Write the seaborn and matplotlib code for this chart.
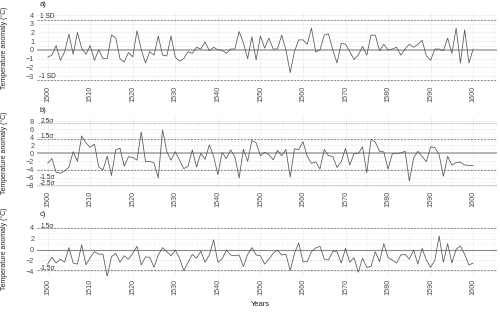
import matplotlib
matplotlib.use("Agg")
import matplotlib.pyplot as plt
import seaborn as sns
import pandas as pd

years = list(range(1500, 1601))

anom_a = [
    -0.85, -0.6, 0.5, -1.2, -0.2, 1.8, -0.5, 2.0, 0.2, -0.5,
    0.5, -1.2, 0.0, -1.0, -1.0, 1.7, 1.4, -1.0, -1.4, -0.3,
    -0.8, 2.2, 0.0, -1.5, -0.2, -0.6, 1.6, -0.6, -0.7, 1.6,
    -0.85, -1.3, -1.0, -0.2, -0.4, 0.3, 0.1, 0.9, -0.1, 0.3,
    0.0, -0.05, -0.4, 0.1, 0.1, 2.1, 0.8, -1.0, 1.5, -1.15,
    1.6, 0.2, 1.35, 0.1, 0.1, 1.7, 0.0, -2.6, -0.2, 1.15,
    1.15, 0.65, 2.5, -0.25, 0.0, 1.7, 1.85, 0.0, -1.5, 0.75,
    0.65, -0.2, -1.1, -0.6, 0.4, -0.6, 1.7, 1.7, -0.1, 0.65,
    0.0, 0.1, 0.3, -0.6, 0.1, 0.65, 0.3, 0.65, 1.1, -0.7,
    -1.2, 0.1, 0.1, -0.1, 1.35, -0.4, 2.5, -1.5, 2.3, -1.5,
    0.1,
]

anom_b = [
    -2.5, -1.3, -4.7, -4.9, -4.4, -3.4, 0.4, -2.0, 4.3, 2.6,
    1.5, 2.3, -3.4, -4.1, -0.7, -5.5, 0.85, 1.3, -3.2, -0.85,
    -1.0, -1.7, 5.3, -2.1, -2.0, -2.4, -6.1, 5.8, 0.4, -1.7,
    0.4, -1.7, -3.8, -3.2, 0.85, -3.4, 0.0, -1.5, 2.1, -0.7,
    -5.3, 0.2, -1.3, 0.85, -0.85, -6.1, 1.0, -2.0, 3.2, 2.6,
    -0.6, 0.25, -0.35, -1.6, 0.75, -0.6, 0.95, -5.9, 1.1, 0.95,
    2.9, -0.75, -2.5, -2.1, -3.9, 0.95, -0.6, -0.75, -3.5, -2.1,
    1.2, -2.9, -0.1, -0.1, 1.6, -4.8, 3.5, 2.8, 0.5, 0.35,
    -3.9, -0.1, -0.1, 0.1, 0.5, -6.9, -1.2, 0.5, -0.75, -2.1,
    1.6, 1.4, -0.35, -5.7, -0.75, -2.9, -2.3, -2.2, -2.9, -3.0,
    -3.0,
]

anom_c = [
    -2.7, -1.45, -2.5, -1.8, -2.35, 0.35, -2.5, -2.7, 0.9, -2.85,
    -1.5, -0.4, -0.85, -0.85, -5.0, -1.35, -0.7, -2.35, -1.15, -1.8,
    -0.7, 0.6, -2.85, -1.35, -1.45, -3.3, -1.0, 0.35, -0.4, -1.15,
    -0.1, -1.6, -3.9, -2.35, -0.9, -1.6, -0.3, -2.35, -1.0, 1.8,
    -2.35, -1.75, -0.1, -1.0, -1.15, -1.0, -3.15, -0.9, 0.35, -1.0,
    -1.15, -2.7, -1.8, -0.7, -0.1, -1.0, -0.9, -3.9, -0.7, 1.25,
    -2.25, -2.25, -0.4, 0.3, 0.6, -1.75, -1.95, -0.4, -0.4, -2.5,
    0.2, -2.35, -1.5, -4.2, -1.6, -3.3, -3.15, -0.4, -2.25, 1.1,
    -1.5, -1.95, -2.5, -1.0, -0.9, -1.75, -0.1, -2.7, 0.2, -1.95,
    -3.3, -1.95, 2.5, -2.35, 1.1, -2.5, 0.05, 0.65, -0.9, -2.85,
    -2.5,
]

# threshold lines and their labels
lines_a = [3.4, -3.45]
labels_a = ["1 SD", "-1 SD"]
lines_b = [7.4, 3.65, -4.15, -7.95]
labels_b = ["2.5σ", "1.5σ", "-1.5σ", "-2.5σ"]
lines_c = [3.9, -3.85]
labels_c = ["1.5σ", "-1.5σ"]

sns.set_theme(style="white")
plt.rcParams["font.family"] = ["Liberation Sans", "DejaVu Sans"]

W, H = 500, 313
fig = plt.figure(figsize=(5, 3.13), dpi=100)


def make_axes(top, bottom, left=37, right=497):
    return fig.add_axes([left / W, 1 - bottom / H, (right - left) / W, (bottom - top) / H])


panels = [
    # top, bottom, ylim, yticks, data, lines, labels, label offsets (px), tag
    (12, 83, (-3.8, 4.35), list(range(-3, 5)), anom_a, lines_a, labels_a, [3.5, 3.5], "a)"),
    (117, 188, (-8.6, 9.0), list(range(-8, 9, 2)), anom_b, lines_b, labels_b, [2.3, 2.0, -7.0, 2.3], "b)"),
    (222, 276, (-4.9, 5.1), list(range(-4, 5, 2)), anom_c, lines_c, labels_c, [2.3, 2.3], "c)"),
]

for top, bottom, ylim, yticks, data, lns, lbls, offs, tag in panels:
    ax = make_axes(top, bottom)
    df = pd.DataFrame({"year": years, "anom": data})

    ax.set_xlim(1497.5, 1605.6)
    ax.set_ylim(*ylim)
    ax.set_xticks(range(1500, 1601, 10))
    ax.set_xticks(range(1505, 1606, 10), minor=True)
    ax.set_yticks(yticks)
    step = yticks[1] - yticks[0]
    ax.set_yticks([t + step / 2 for t in yticks[:-1]], minor=True)
    ax.grid(True, which="major", color="#ebebeb", linewidth=0.5)
    ax.grid(True, which="minor", color="#f4f4f4", linewidth=0.4)
    ax.set_axisbelow(True)
    for s in ax.spines.values():
        s.set_visible(False)
    ax.tick_params(which="both", length=0, pad=2, labelsize=5.2, labelcolor="#4d4d4d")
    ax.tick_params(axis="x", labelrotation=90)

    zc = "#b0b0b0" if tag != "c)" else "#8a8a8a"
    zw = 1.3 if tag != "c)" else 0.8
    ax.axhline(0, color=zc, linewidth=zw, zorder=1)

    for yv, lb, off in zip(lns, lbls, offs):
        dotted = tag == "b)" and abs(yv) > 5
        ax.axhline(yv, color="#9a9a9a" if dotted else "#777777", linewidth=0.6,
                   linestyle=(0, (1, 1)) if dotted else (0, (2.5, 1.5)), zorder=1)
        ax.annotate(lb, xy=(1500, yv), xytext=(0, off * 0.72), textcoords="offset points",
                    ha="center", va="center", fontsize=4.8, color="#333333")

    sns.lineplot(data=df, x="year", y="anom", ax=ax, color="#555555", linewidth=0.55, zorder=3)
    ax.set_xlabel("")
    ax.set_ylabel("Temperature anomaly (°C)", fontsize=5.0, color="#222222")
    ax.yaxis.set_label_coords((8 - 37) / 460, 0.5)
    ax.text(40 / W, 1 - (top - 7) / H, tag, transform=fig.transFigure, fontsize=5.5,
            color="#222222", ha="left", va="center")

fig.text(260 / W, 1 - 305 / H, "Years", fontsize=5.5, color="#222222", ha="center", va="center")

fig.savefig("out.png", dpi=100, facecolor="white")
